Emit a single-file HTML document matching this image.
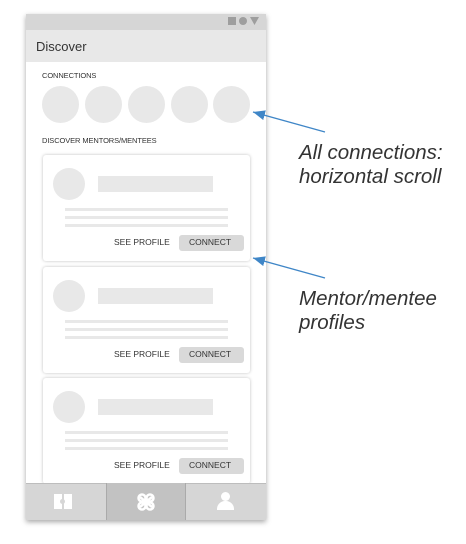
<!DOCTYPE html>
<html><head><meta charset="utf-8"><style>
*{margin:0;padding:0;box-sizing:border-box}
body{width:466px;height:544px;background:#fff;position:relative;overflow:hidden;font-family:"Liberation Sans",sans-serif}
.a{position:absolute}
.phone{left:26px;top:14px;width:240px;height:506px;background:#fff;box-shadow:0 2px 5px rgba(0,0,0,.35);overflow:hidden}
.lbl{font-size:7.5px;color:#333;letter-spacing:-.1px}
.c{background:#e8e8e8;border-radius:50%}
.card{left:17px;width:207px;height:106px;background:#fff;border-radius:3px;box-shadow:0 0 3px rgba(0,0,0,.25)}
.ln{left:22px;width:163px;height:2.5px;background:#e8e8e8}
.btn{font-size:8.5px;color:#333}
.note{font-style:italic;font-size:20.5px;color:#333;left:299px;line-height:24px}
</style></head><body>
<div class="a phone">
 <div class="a" style="left:0;top:0;width:240px;height:16px;background:#d6d6d6"></div>
 <div class="a" style="left:202px;top:3px;width:8px;height:8px;background:#9e9e9e"></div>
 <div class="a" style="left:213px;top:3px;width:8px;height:8px;background:#9e9e9e;border-radius:50%"></div>
 <svg class="a" style="left:224px;top:3px" width="9" height="8"><polygon points="0,0 9,0 4.5,8" fill="#9e9e9e"/></svg>
 <div class="a" style="left:0;top:16px;width:240px;height:32px;background:#e8e8e8"></div>
 <div class="a" style="left:10px;top:25px;font-size:13px;color:#333">Discover</div>
 <div class="a lbl" style="left:16px;top:57px">CONNECTIONS</div>
 <div class="a c" style="left:16px;top:72px;width:37px;height:37px"></div>
 <div class="a c" style="left:59px;top:72px;width:37px;height:37px"></div>
 <div class="a c" style="left:102px;top:72px;width:37px;height:37px"></div>
 <div class="a c" style="left:145px;top:72px;width:37px;height:37px"></div>
 <div class="a c" style="left:187px;top:72px;width:37px;height:37px"></div>
 <div class="a lbl" style="left:16px;top:122px">DISCOVER MENTORS/MENTEES</div>

 <div class="a card" style="top:141px">
  <div class="a c" style="left:10px;top:13px;width:32px;height:32px"></div>
  <div class="a" style="left:55px;top:21px;width:115px;height:16px;background:#e8e8e8"></div>
  <div class="a ln" style="top:53px"></div><div class="a ln" style="top:61px"></div><div class="a ln" style="top:69px"></div>
  <div class="a btn" style="left:71px;top:82px">SEE PROFILE</div>
  <div class="a" style="left:136px;top:80px;width:65px;height:16px;background:#d9d9d9;border-radius:3px"></div>
  <div class="a btn" style="left:146px;top:82px">CONNECT</div>
 </div>
 <div class="a card" style="top:253px">
  <div class="a c" style="left:10px;top:13px;width:32px;height:32px"></div>
  <div class="a" style="left:55px;top:21px;width:115px;height:16px;background:#e8e8e8"></div>
  <div class="a ln" style="top:53px"></div><div class="a ln" style="top:61px"></div><div class="a ln" style="top:69px"></div>
  <div class="a btn" style="left:71px;top:82px">SEE PROFILE</div>
  <div class="a" style="left:136px;top:80px;width:65px;height:16px;background:#d9d9d9;border-radius:3px"></div>
  <div class="a btn" style="left:146px;top:82px">CONNECT</div>
 </div>
 <div class="a card" style="top:364px">
  <div class="a c" style="left:10px;top:13px;width:32px;height:32px"></div>
  <div class="a" style="left:55px;top:21px;width:115px;height:16px;background:#e8e8e8"></div>
  <div class="a ln" style="top:53px"></div><div class="a ln" style="top:61px"></div><div class="a ln" style="top:69px"></div>
  <div class="a btn" style="left:71px;top:82px">SEE PROFILE</div>
  <div class="a" style="left:136px;top:80px;width:65px;height:16px;background:#d9d9d9;border-radius:3px"></div>
  <div class="a btn" style="left:146px;top:82px">CONNECT</div>
 </div>

 <div class="a" style="left:0;top:469px;width:240px;height:37px;background:#d6d6d6;border-top:1px solid #bdbdbd"></div>
 <div class="a" style="left:80px;top:469px;width:80px;height:37px;background:#c2c2c2;border-left:1px solid #aaa;border-right:1px solid #aaa"></div>
 <div class="a" style="left:28px;top:480px;width:8px;height:15px;background:#fff"></div>
 <div class="a" style="left:38px;top:480px;width:8px;height:15px;background:#fff"></div>
 <div class="a" style="left:34px;top:485px;width:5px;height:5px;background:#d6d6d6;border-radius:50%"></div>
 <svg class="a" style="left:110px;top:479px" width="20" height="18"><g fill="none" stroke="#fff" stroke-width="2.5"><path d="M4 4 L16 14 M16 4 L4 14"/><circle cx="6" cy="5" r="3.5"/><circle cx="14" cy="13" r="3.5"/><circle cx="14" cy="5" r="3.5"/><circle cx="6" cy="13" r="3.5"/></g></svg>
 <div class="a" style="left:195px;top:478px;width:9px;height:9px;background:#fff;border-radius:50%"></div>
 <div class="a" style="left:191px;top:487px;width:17px;height:9px;background:#fff;border-radius:8px 8px 0 0"></div>
</div>

<svg class="a" style="left:0;top:0" width="466" height="544">
 <defs><marker id="m" markerWidth="12" markerHeight="10" refX="12" refY="5" orient="auto" markerUnits="userSpaceOnUse"><polygon points="0,0 12,5 0,10" fill="#3f86c7"/></marker></defs>
 <line x1="325" y1="132" x2="253" y2="112" stroke="#3f86c7" stroke-width="1.3" marker-end="url(#m)"/>
 <line x1="325" y1="278" x2="253" y2="258" stroke="#3f86c7" stroke-width="1.3" marker-end="url(#m)"/>
</svg>
<div class="a note" style="top:141px">All connections:<br>horizontal scroll</div>
<div class="a note" style="top:287px">Mentor/mentee<br>profiles</div>
</body></html>
